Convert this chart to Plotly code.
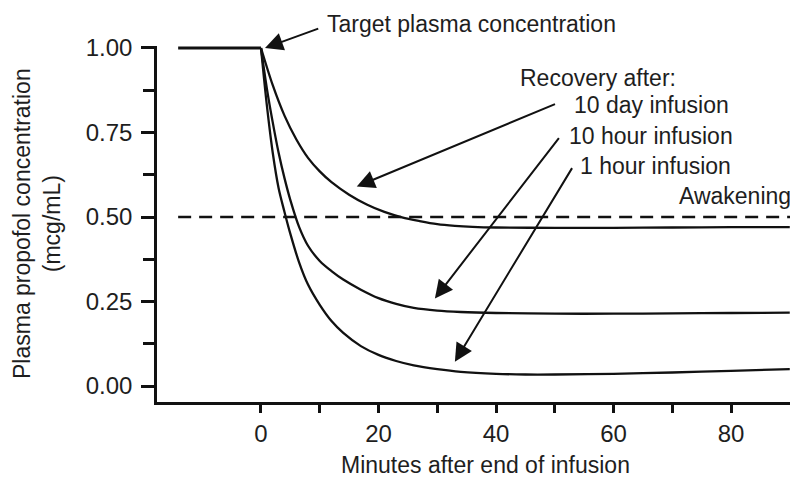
import plotly.graph_objects as go

# ---- data ----
t_target = [-14.1, 0]
y_target = [1.0, 1.0]

t_10d = [0, 2, 4, 6, 8, 10, 12, 15, 18, 21, 24, 27, 30, 33, 36, 40, 50, 60, 70, 80, 90]
y_10d = [1.0, 0.89, 0.80, 0.73, 0.675, 0.635, 0.603, 0.566, 0.537, 0.515, 0.499, 0.488,
         0.479, 0.474, 0.471, 0.469, 0.468, 0.468, 0.469, 0.47, 0.47]

t_10h = [0, 1, 2, 3, 4, 5, 6.5, 8, 10, 12, 14, 17, 20, 23, 26, 30, 34, 40, 50, 60, 70, 80, 90]
y_10h = [1.0, 0.88, 0.78, 0.69, 0.615, 0.55, 0.47, 0.415, 0.37, 0.34, 0.315, 0.285, 0.26,
         0.243, 0.231, 0.223, 0.219, 0.216, 0.214, 0.214, 0.215, 0.216, 0.217]

t_1h = [0, 1, 2, 3, 4, 5, 6.5, 8, 10, 12, 14, 17, 20, 23, 26, 30, 34, 40, 45, 50, 60, 70, 80, 90]
y_1h = [1.0, 0.83, 0.69, 0.585, 0.515, 0.45, 0.365, 0.30, 0.24, 0.192, 0.157, 0.118, 0.092,
        0.074, 0.061, 0.05, 0.042, 0.036, 0.034, 0.034, 0.036, 0.040, 0.045, 0.05]

awake_level = 0.5

y_tickvals = [0, 0.25, 0.5, 0.75, 1.0]
y_ticktext = ["0.00", "0.25", "0.50", "0.75", "1.00"]
y_minor = [0.125, 0.375, 0.625, 0.875]
x_tickvals = [0, 20, 40, 60, 80]
x_ticktext = ["0", "20", "40", "60", "80"]
x_minor = [10, 30, 50, 70]

x_range = [-17.7, 91.23]
y_range = [-0.0473, 1.0059]

FONT = "Liberation Sans, Arial, sans-serif"
TXT = "#1e1e1e"
LINE = "#111111"

fig = go.Figure()

fig.add_trace(go.Scatter(x=t_target, y=y_target, mode="lines",
                         line=dict(color=LINE, width=3.2), hoverinfo="skip"))
for tx, ty in [(t_10d, y_10d), (t_10h, y_10h), (t_1h, y_1h)]:
    fig.add_trace(go.Scatter(x=tx, y=ty, mode="lines",
                             line=dict(color=LINE, width=2.3, shape="spline", smoothing=0.9),
                             hoverinfo="skip"))

# Awakening dashed line
fig.add_shape(type="line", xref="x", yref="y", x0=t_target[0], x1=x_range[1],
              y0=awake_level, y1=awake_level,
              line=dict(color=LINE, width=2.5, dash="13px,8px"))

ann = []
def text(s, x, y, xanchor="left", ref="x"):
    ann.append(dict(text=s, x=x, y=y, xref=ref, yref=("paper" if ref == "paper" else "y"),
                    showarrow=False, xanchor=xanchor, yanchor="middle",
                    font=dict(family=FONT, size=23, color=TXT)))

def arrow(x, y, ax, ay):
    ann.append(dict(text="", x=x, y=y, ax=ax, ay=ay, xref="x", yref="y",
                    axref="x", ayref="y", showarrow=True, arrowhead=2,
                    arrowsize=1.8, arrowwidth=2, arrowcolor=LINE, standoff=0))

text("Target plasma concentration", 0.2625, 1.0618, ref="paper")
text("Recovery after:", 43.7, 0.910)
text("10 day infusion", 52.9, 0.830)
text("10 hour infusion", 52.1, 0.740)
text("1 hour infusion", 54.0, 0.651)
text("Awakening", 90.55, 0.562, xanchor="right")

arrow(0.68, 1.0, 10.0, 1.059)
arrow(16.3, 0.590, 50.3, 0.836)
arrow(29.6, 0.259, 50.9, 0.738)
arrow(33.0, 0.072, 53.1, 0.649)

# axis titles
ann.append(dict(text="Plasma propofol concentration<br>(mcg/mL)", xref="paper", yref="paper",
                x=-0.1875, y=0.5, xanchor="center", yanchor="middle", textangle=-90,
                showarrow=False, font=dict(family=FONT, size=23, color=TXT)))
ann.append(dict(text="Minutes after end of infusion", xref="paper", yref="paper",
                x=0.5125, y=-0.177, xanchor="center", yanchor="middle",
                showarrow=False, font=dict(family=FONT, size=23, color=TXT)))

# page body has an 8px margin, so the figure is 8px smaller than the window
fig.update_layout(
    width=790, height=470,
    margin=dict(l=149, r=1, t=38, b=76),
    paper_bgcolor="white", plot_bgcolor="white",
    showlegend=False,
    annotations=ann,
    font=dict(family=FONT, size=24, color=TXT),
)
fig.update_xaxes(range=x_range, showgrid=False, zeroline=False,
                 showline=True, linecolor=LINE, linewidth=2.5,
                 ticks="outside", ticklen=8, tickwidth=2.5, tickcolor=LINE,
                 tickvals=x_tickvals, ticktext=x_ticktext, ticklabelstandoff=0,
                 tickfont=dict(family=FONT, size=24, color=TXT),
                 minor=dict(tickvals=x_minor, ticks="outside", ticklen=8, tickwidth=2.5,
                            tickcolor=LINE, showgrid=False))
fig.update_yaxes(range=y_range, showgrid=False, zeroline=False,
                 showline=True, linecolor=LINE, linewidth=2.5,
                 ticks="outside", ticklen=13, tickwidth=2.5, tickcolor=LINE,
                 tickvals=y_tickvals, ticktext=y_ticktext, ticklabelstandoff=4,
                 tickfont=dict(family=FONT, size=24, color=TXT),
                 minor=dict(tickvals=y_minor, ticks="outside", ticklen=11, tickwidth=2.5,
                            tickcolor=LINE, showgrid=False))

fig.write_html("out.html")
